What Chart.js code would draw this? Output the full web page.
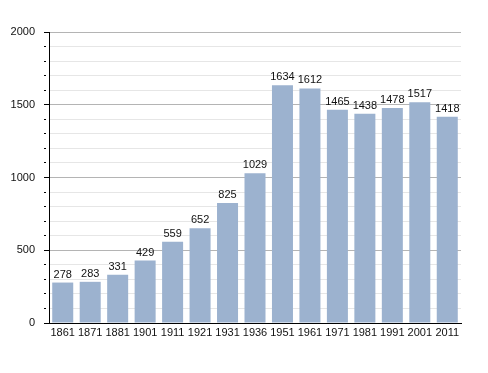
<!DOCTYPE html>
<html>
<head>
<meta charset="utf-8">
<script src="https://cdn.jsdelivr.net/npm/chart.js@4/dist/chart.umd.min.js"></script>
<style>
  html, body { margin: 0; padding: 0; background: #fff; }
  #wrap { width: 488px; height: 373px; }
</style>
</head>
<body>
<div id="wrap"><canvas id="myChart" width="488" height="373"></canvas></div>
<script>
// data
const years = ["1861", "1871", "1881", "1901", "1911", "1921", "1931", "1936",
  "1951", "1961", "1971", "1981", "1991", "2001", "2011"];
const population = [278, 283, 331, 429, 559, 652, 825, 1029,
  1634, 1612, 1465, 1438, 1478, 1517, 1418];
const yTicks = [0, 500, 1000, 1500, 2000];

const fontFamily = "'Liberation Sans', Arial, sans-serif";

// labels above each bar
const valueLabels = {
  id: "valueLabels",
  afterDatasetsDraw(chart) {
    const ctx = chart.ctx;
    const meta = chart.getDatasetMeta(0);
    ctx.save();
    ctx.font = "11px " + fontFamily;
    ctx.fillStyle = "#111";
    ctx.textAlign = "center";
    ctx.textBaseline = "alphabetic";
    meta.data.forEach((bar, i) => {
      ctx.fillText(String(population[i]), bar.x, bar.y - 5);
    });
    ctx.restore();
  },
};

const ctx = document.getElementById("myChart").getContext("2d");
const myChart = new Chart(ctx, {
  type: "bar",
  data: {
    labels: years,
    datasets: [
      {
        data: population,
        backgroundColor: "#9cb2cf",
        borderWidth: 0,
        barPercentage: 0.765,
        categoryPercentage: 1,
      },
    ],
  },
  options: {
    responsive: false,
    devicePixelRatio: 1,
    animation: false,
    layout: { padding: { top: 32, right: 27, left: 0, bottom: 0 } },
    plugins: {
      legend: { display: false },
      tooltip: { enabled: false },
    },
    scales: {
      x: {
        grid: { display: false, drawTicks: false },
        border: { display: true, color: "#000", width: 1 },
        ticks: {
          color: "#111",
          padding: 3,
          maxRotation: 0,
          autoSkip: false,
          font: { family: fontFamily, size: 11 },
        },
        afterFit(scale) {
          scale.height = 50;
        },
      },
      y: {
        min: 0,
        max: 2000,
        border: { display: true, color: "#000", width: 1 },
        grid: {
          color: (c) => (yTicks.includes(c.tick.value) ? "#b4b4b4" : "#e6e6e6"),
          tickColor: "#000",
          tickLength: 5,
          tickBorderDash: (c) => (yTicks.includes(c.tick.value) ? [] : [2, 20]),
        },
        ticks: {
          stepSize: 100,
          autoSkip: false,
          padding: 9,
          color: "#111",
          font: { family: fontFamily, size: 11 },
          callback: (v) => (yTicks.includes(v) ? String(v) : ""),
        },
        afterFit(scale) {
          scale.width = 49;
        },
      },
    },
  },
  plugins: [valueLabels],
});
</script>
</body>
</html>
